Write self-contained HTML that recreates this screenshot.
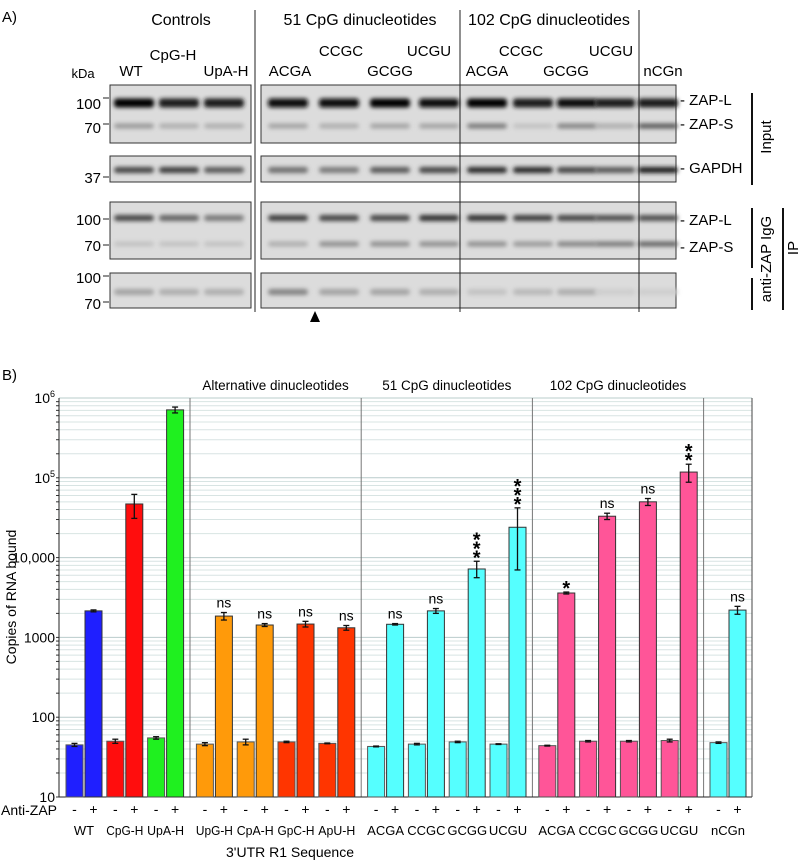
<!DOCTYPE html>
<html><head><meta charset="utf-8">
<style>
html,body{margin:0;padding:0;background:#fff;}
svg{display:block;font-family:"Liberation Sans","DejaVu Sans",sans-serif;}
</style></head>
<body>
<svg id="fig" width="800" height="861" viewBox="0 0 800 861" xmlns="http://www.w3.org/2000/svg">
<defs>
<filter id="blur" x="-20%" y="-100%" width="140%" height="300%"><feGaussianBlur stdDeviation="2"/></filter>
</defs>
<g id="panelA">
<text x="2" y="22" font-size="15">A)</text>
<text x="181" y="25" font-size="16" text-anchor="middle">Controls</text>
<text x="360" y="25" font-size="16" text-anchor="middle">51 CpG dinucleotides</text>
<text x="549" y="25" font-size="16" text-anchor="middle">102 CpG dinucleotides</text>
<g font-size="15" text-anchor="middle">
<text x="83" y="78" font-size="13">kDa</text>
<text x="131" y="76">WT</text>
<text x="173" y="60">CpG-H</text>
<text x="226" y="76">UpA-H</text>
<text x="290" y="76">ACGA</text>
<text x="341" y="56">CCGC</text>
<text x="390" y="76">GCGG</text>
<text x="429" y="56">UCGU</text>
<text x="487" y="76">ACGA</text>
<text x="521" y="56">CCGC</text>
<text x="566" y="76">GCGG</text>
<text x="611" y="56">UCGU</text>
<text x="663" y="76">nCGn</text>
</g>
<g id="blots"></g>
<line x1="255" y1="10" x2="255" y2="312" stroke="#222" stroke-width="1"/>
<line x1="460" y1="10" x2="460" y2="312" stroke="#222" stroke-width="1"/>
<line x1="639" y1="10" x2="639" y2="312" stroke="#222" stroke-width="1"/>
<g font-size="15" text-anchor="end">
<text x="101" y="109">100</text>
<text x="101" y="133">70</text>
<text x="101" y="183">37</text>
<text x="101" y="225">100</text>
<text x="101" y="251">70</text>
<text x="101" y="283">100</text>
<text x="101" y="309">70</text>
</g>
<g stroke="#222" stroke-width="1">
<line x1="103" y1="98" x2="109" y2="98"/><line x1="103" y1="124" x2="109" y2="124"/>
<line x1="103" y1="177" x2="109" y2="177"/><line x1="103" y1="219" x2="109" y2="219"/>
<line x1="103" y1="245" x2="109" y2="245"/><line x1="103" y1="276" x2="109" y2="276"/>
<line x1="103" y1="302" x2="109" y2="302"/>
</g>
<g font-size="15">
<text x="680" y="105">- ZAP-L</text>
<text x="680" y="129">- ZAP-S</text>
<text x="680" y="173">- GAPDH</text>
<text x="680" y="225">- ZAP-L</text>
<text x="680" y="252">- ZAP-S</text>
</g>
<line x1="752" y1="93" x2="752" y2="185" stroke="#111" stroke-width="2"/>
<text transform="translate(771,137) rotate(-90)" font-size="15" text-anchor="middle">Input</text>
<line x1="752" y1="208" x2="752" y2="268" stroke="#111" stroke-width="2"/>
<line x1="752" y1="278" x2="752" y2="310" stroke="#111" stroke-width="2"/>
<text transform="translate(771,259) rotate(-90)" font-size="15" text-anchor="middle">anti-ZAP IgG</text>
<line x1="783" y1="208" x2="783" y2="310" stroke="#111" stroke-width="2"/>
<text transform="translate(798,248) rotate(-90)" font-size="15" text-anchor="middle">IP</text>
<polygon points="310,322 320,322 315,311" fill="#000"/>
</g>

<g id="panelB">
<text x="2" y="380" font-size="15">B)</text>
<g id="grid"></g>
<g id="bars"></g>
<g id="labels"></g>
</g>
</svg>
<script>
// ---------- Blot data (band intensities 0-1) ----------
const leftLanes = [134,179,224];
const rightLanes = [288,339,390,439,487,533,577,615,658];
const zapLInput = [1,0.9,0.9, 0.95,0.95,1,0.95, 1,0.9,0.95,0.9,0.9];
const zapSInput = [0.3,0.2,0.2, 0.25,0.2,0.25,0.25, 0.45,0.1,0.4,0.2,0.6];
const gapdh = [0.7,0.75,0.6, 0.5,0.45,0.6,0.7, 0.85,0.85,0.7,0.6,0.9];
const zapLIP = [0.7,0.55,0.45, 0.75,0.7,0.7,0.8, 0.8,0.75,0.7,0.65,0.65];
const zapSIP = [0.1,0.1,0.1, 0.2,0.35,0.35,0.35, 0.35,0.3,0.4,0.45,0.55];
const igg = [0.25,0.2,0.2, 0.4,0.25,0.25,0.2, 0.1,0.15,0.2,0.05,0.05];

const NS = "http://www.w3.org/2000/svg";
function mk(tag, attrs, parent){const e=document.createElementNS(NS,tag);for(const k in attrs)e.setAttribute(k,attrs[k]);parent.appendChild(e);return e;}
const blots = document.getElementById('blots');
const rows = [
 {y:85,h:58, bands:[[zapLInput,103,9],[zapSInput,126,5]]},
 {y:156,h:26, bands:[[gapdh,170,6]]},
 {y:202,h:57, bands:[[zapLIP,218,6],[zapSIP,244,5]]},
 {y:273,h:35, bands:[[igg,292,6]]}
];
rows.forEach((r,ri)=>{
  [[110,251,leftLanes,0],[261,676,rightLanes,3]].forEach(([x0,x1,lanes,off])=>{
    const box = mk('rect',{x:x0,y:r.y,width:x1-x0,height:r.h,fill:'#dcdcdc',stroke:'#333','stroke-width':1},blots);
    
    
    r.bands.forEach(([vals,by,bh])=>{
      lanes.forEach((lx,li)=>{
        const v = vals[li+off];
        const g = Math.round(215 - 210*v);
        const b = mk('rect',{x:lx-20,y:by-bh/2,width:40,height:bh,rx:3,fill:`rgb(${g},${g},${g})`,filter:'url(#blur)'},blots);
        
        
      });
    });
  });
});

// ---------- Bar chart data ----------
const groups = ["WT","CpG-H","UpA-H","UpG-H","CpA-H","GpC-H","ApU-H","ACGA","CCGC","GCGG","UCGU","ACGA","CCGC","GCGG","UCGU","nCGn"];
const sections = [0,0,0,1,1,1,1,2,2,2,2,3,3,3,3,4];
const minusVals = [45,50,55,46,49,49,47,43,46,49,46,44,50,50,51,48];
const minusErr = [2,3,2,2,4,1,0.5,0.5,1,1,0.5,0.5,1,1,2,1];
const plusVals = [2150,47000,710000,1850,1430,1470,1320,1460,2150,7200,24000,3600,33000,50000,118000,2200];
const plusErrLo = [60,16000,60000,200,60,120,90,30,150,1600,17000,100,3000,5000,30000,250];
const plusErrHi = [60,15000,60000,200,60,120,90,30,150,1800,18000,100,3000,5000,30000,250];
const sig = ["","","","ns","ns","ns","ns","ns","ns","***","***","*","ns","ns","**","ns"];
const colors = ["#1f1fff","#ff0d0d","#1ff01f","#ff9a0a","#ff9a0a","#ff3500","#ff3500","#55ffff","#55ffff","#55ffff","#55ffff","#ff5598","#ff5598","#ff5598","#ff5598","#55ffff"];
const yTicks = [10,100,1000,10000,100000,1000000];
const yTickLabels = ["10","100","1000","10,000","10|5","10|6"];
const sectionTitles = ["Alternative dinucleotides","51 CpG dinucleotides","102 CpG dinucleotides"];

const plotL=59, plotR=752, yTop=398, yBot=797;
const y = v => yBot - (Math.log10(v)-1)*(yBot-yTop)/5;
const xc = i => 84 + i*40.8 + sections[i]*8;
const barW = 17;

const grid = document.getElementById('grid');
for(let d=1; d<6; d++){
  for(let m=1;m<10;m++){
    const v = Math.pow(10,d)*m;
    const yy = y(v);
    const l = mk('line',{x1:plotL,x2:plotR,y1:yy,y2:yy,stroke:m===1?'#b9cccb':'#d8e4e3','stroke-width':1},grid);
    
    
    mk('line',{x1:plotL-3,x2:plotL,y1:yy,y2:yy,stroke:'#333','stroke-width':1},grid);
  }
}
mk('line',{x1:plotL,x2:plotR,y1:yTop,y2:yTop,stroke:'#b9cccb'},grid);
for(let s=1;s<=4;s++){
  const first = sections.indexOf(s);
  const xx = (xc(first-1)+xc(first))/2;
  const l = mk('line',{x1:xx,x2:xx,y1:yTop,y2:yBot,stroke:'#777','stroke-width':1},grid);
  
  
  if(s<=3){
    const last = sections.lastIndexOf(s);
    const cx = (xc(first)+xc(last))/2;
    const t = mk('text',{x:cx,y:390,'font-size':13.5,'text-anchor':'middle'},grid);
    t.textContent = sectionTitles[s-1];
    
    
  }
}
const ax = mk('line',{x1:plotL,x2:plotL,y1:yTop,y2:yBot,stroke:'#222'},grid);


const xax = mk('line',{x1:plotL,x2:plotR,y1:yBot,y2:yBot,stroke:'#222'},grid);


mk('line',{x1:plotR,x2:plotR,y1:yTop,y2:yBot,stroke:'#444'},grid);

const labels = document.getElementById('labels');
yTicks.forEach((v,i)=>{
  const t = mk('text',{x:55,y:y(v)+5,'font-size':14,'text-anchor':'end'},labels);
  const lab = yTickLabels[i];
  if(lab.includes('|')){
    const [b,e]=lab.split('|');
    const t1=mk('tspan',{},t); t1.textContent=b;
    const t2=mk('tspan',{dy:-6,'font-size':9},t); t2.textContent=e;
  } else t.textContent = lab;
  
  
});
const yl = mk('text',{transform:'translate(16,597) rotate(-90)','font-size':14,'text-anchor':'middle'},labels);
yl.textContent='Copies of RNA bound';


const az = mk('text',{x:1,y:815,'font-size':14},labels);
az.textContent='Anti-ZAP';


const xt = mk('text',{x:290,y:857,'font-size':14,'text-anchor':'middle'},labels);
xt.textContent="3'UTR R1 Sequence";



const bars = document.getElementById('bars');
function errBar(x,lo,hi){
  const g = mk('g',{stroke:'#111','stroke-width':1.3},bars);
  mk('line',{x1:x,x2:x,y1:y(hi),y2:y(lo)},g);
  mk('line',{x1:x-3,x2:x+3,y1:y(hi),y2:y(hi)},g);
  mk('line',{x1:x-3,x2:x+3,y1:y(lo),y2:y(lo)},g);
}
groups.forEach((name,i)=>{
  const c = xc(i);
  const xm = c - barW - 1, xp = c + 1;
  const bm = mk('rect',{x:xm,y:y(minusVals[i]),width:barW,height:yBot-y(minusVals[i]),fill:colors[i],stroke:'#555','stroke-width':1},bars);
  
  
  const bp = mk('rect',{x:xp,y:y(plusVals[i]),width:barW,height:yBot-y(plusVals[i]),fill:colors[i],stroke:'#333','stroke-width':1},bars);
  
  
  errBar(xm+barW/2, minusVals[i]-minusErr[i], minusVals[i]+minusErr[i]);
  errBar(xp+barW/2, plusVals[i]-plusErrLo[i], plusVals[i]+plusErrHi[i]);
  const topY = y(plusVals[i]+plusErrHi[i]);
  if(sig[i]==='ns'){
    const t = mk('text',{x:xp+barW/2,y:topY-5,'font-size':14,'text-anchor':'middle'},bars);
    t.textContent='ns';
    
    
  } else if(sig[i]){
    for(let k=0;k<sig[i].length;k++){
      const t = mk('text',{x:xp+barW/2,y:topY+12-9*(k+1),'font-size':20,'font-weight':'bold','text-anchor':'middle'},bars);
      t.textContent='*';
      
      
    }
  }
  const tm = mk('text',{x:xm+barW/2,y:814,'font-size':14,'text-anchor':'middle'},labels);
  tm.textContent='-';
  
  
  const tp = mk('text',{x:xp+barW/2,y:814,'font-size':14,'text-anchor':'middle'},labels);
  tp.textContent='+';
  
  
  const ga = {x:c,y:835,'font-size':13,'text-anchor':'middle'};
  if(name.length>4){ ga.textLength = 37; ga.lengthAdjust='spacingAndGlyphs'; }
  const tg = mk('text',ga,labels);
  tg.textContent=name;
  
  
});
</script>
</body></html>
